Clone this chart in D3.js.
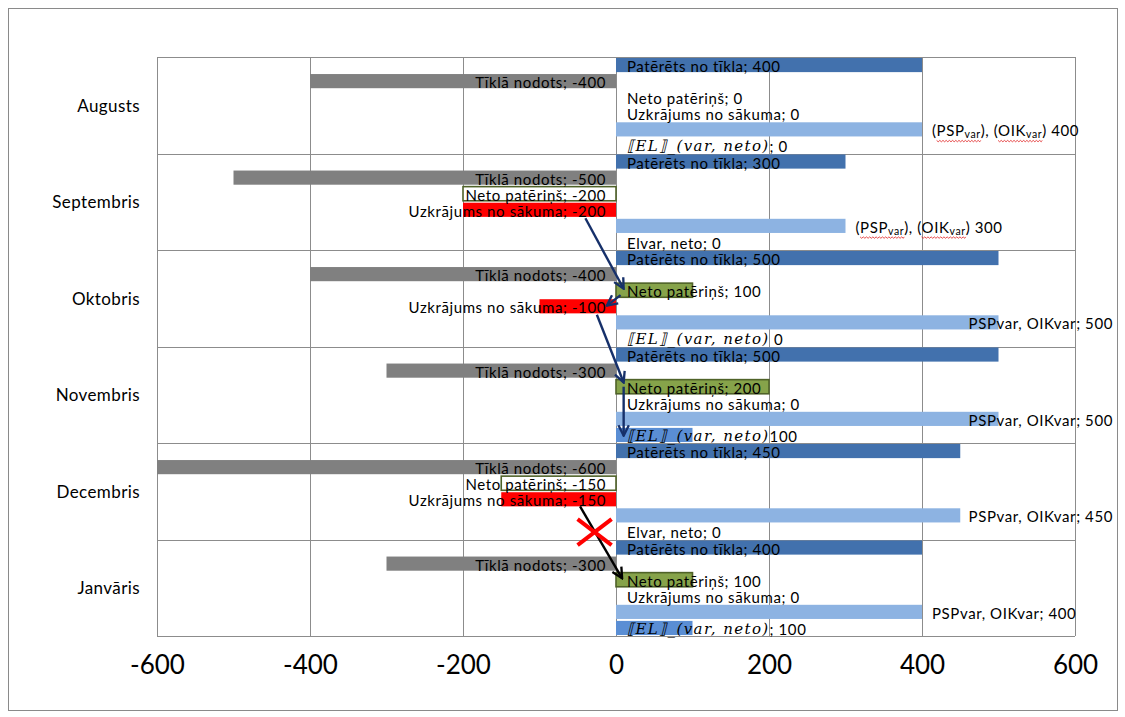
<!DOCTYPE html>
<html lang="lv">
<head>
<meta charset="utf-8">
<script src="https://cdn.jsdelivr.net/npm/d3@7"></script>
<style>
  html, body { margin: 0; padding: 0; background: #fff; }
  svg { display: block; }
  text { font-family: Lato, "Open Sans", sans-serif; }
</style>
</head>
<body>
<svg id="chart" width="1125" height="717"></svg>
<script>
// Mēneši (kategorijas) un sēriju vērtības, kWh
const categories = ["Augusts", "Septembris", "Oktobris", "Novembris", "Decembris", "Janvāris"];
const pateretsNoTikla = [400, 300, 500, 500, 450, 400];
const tiklaNodots = [-400, -500, -400, -300, -600, -300];
const netoPaterins = [0, -200, 100, 200, -150, 100];
const uzkrajumsNoSakuma = [0, -200, -100, 0, -150, 0];
const pspOikVar = [400, 300, 500, 500, 450, 400];
const elVarNeto = [0, 0, 0, 100, 0, 100];
const xTicks = [-600, -400, -200, 0, 200, 400, 600];

// Datu etiķešu pieraksts pa mēnešiem
const pspLabelForm = ["sub", "sub", "plain", "plain", "plain", "plain"];
const elLabelSep = ["; ", null, " ", "", null, "; "]; // null -> "Elvar, neto; "

const W = 1125, H = 717;
const plot = { left: 157, right: 1075, top: 57, bottom: 636 };
const labelSize = 15;

const svg = d3.select("#chart");

// Diagrammas rāmis
svg.append("rect")
  .attr("x", 8.5).attr("y", 8.5).attr("width", 1109).attr("height", 702)
  .attr("fill", "#fff").attr("stroke", "#8a8a8a").attr("stroke-width", 1);

const x = d3.scaleLinear().domain([-600, 600]).range([plot.left, plot.right]);
const y0 = d3.scaleBand().domain(categories).range([plot.top, plot.bottom]).padding(0);

const seriesKeys = ["paterets", "nodots", "neto", "uzkr", "psp", "el"];
const y1 = d3.scaleBand().domain(seriesKeys).range([0, y0.bandwidth()])
  .paddingInner(0.12).paddingOuter(0.06);

const gridColor = "#8c8c8c";

// Vertikālās režģa līnijas un x ass
const xAxis = d3.axisBottom(x).tickValues(xTicks)
  .tickSize(-(plot.bottom - plot.top)).tickPadding(20).tickFormat(d3.format("d"));
const gx = svg.append("g")
  .attr("transform", `translate(0,${plot.bottom})`)
  .call(xAxis);
gx.select(".domain").remove();
gx.selectAll(".tick line").attr("stroke", gridColor).attr("stroke-width", 1);
gx.selectAll(".tick text")
  .attr("font-family", "Lato, sans-serif")
  .attr("font-size", 26).attr("fill", "#000")
  .text(d => d < 0 ? "-" + Math.abs(d) : d);

// Horizontālās līnijas starp mēnešiem
const bounds = categories.map(c => y0(c)).concat([plot.bottom]);
svg.append("g").selectAll("line").data(bounds).join("line")
  .attr("x1", plot.left).attr("x2", plot.right)
  .attr("y1", d => Math.round(d) + 0.5).attr("y2", d => Math.round(d) + 0.5)
  .attr("stroke", gridColor).attr("stroke-width", 1);

// Mēnešu nosaukumi
svg.append("g").selectAll("text").data(categories).join("text")
  .attr("x", 140).attr("y", d => y0(d) + y0.bandwidth() / 2)
  .attr("text-anchor", "end").attr("dominant-baseline", "central")
  .attr("font-size", 17).attr("letter-spacing", 0.4).attr("fill", "#000")
  .text(d => d);

const series = [
  { key: "paterets", values: pateretsNoTikla, fill: "#4271ad", name: "Patērēts no tīkla" },
  { key: "nodots", values: tiklaNodots, fill: "#808080", name: "Tīklā nodots" },
  { key: "neto", values: netoPaterins, fill: "#86a34a", neg: "#ffffff", stroke: "#4f6228", name: "Neto patēriņš" },
  { key: "uzkr", values: uzkrajumsNoSakuma, fill: "#ff0000", name: "Uzkrājums no sākuma" },
  { key: "psp", values: pspOikVar, fill: "#8db3e2", name: "PSPvar, OIKvar" },
  { key: "el", values: elVarNeto, fill: "#5a8ed4", name: "Elvar, neto" }
];

const slotY = (ci, key) => y0(categories[ci]) + y1(key);
const bh = y1.bandwidth();
const x0 = x(0);

// Stabiņi
series.forEach(s => {
  const g = svg.append("g");
  g.selectAll("rect").data(s.values.map((v, i) => ({ v, i }))).join("rect")
    .filter(d => d.v !== 0)
    .attr("x", d => Math.min(x(d.v), x0))
    .attr("y", d => slotY(d.i, s.key))
    .attr("width", d => Math.abs(x(d.v) - x0))
    .attr("height", bh)
    .attr("fill", d => (d.v < 0 && s.neg) ? s.neg : s.fill)
    .attr("stroke", s.stroke || "none")
    .attr("stroke-width", s.stroke ? 1.6 : 0);
});

// Datu etiķetes
const labels = svg.append("g").attr("font-size", labelSize)
  .attr("letter-spacing", 0.6).attr("fill", "#000");
const fmt = v => (v < 0 ? "-" + Math.abs(v) : String(v));

series.forEach(s => {
  s.values.forEach((v, i) => {
    const cy = slotY(i, s.key) + bh / 2;
    if (s.key === "psp") {
      const t = labels.append("text").attr("y", cy + 1).attr("dominant-baseline", "central");
      if (pspLabelForm[i] === "sub") {
        t.append("tspan").text("(PSP");
        t.append("tspan").attr("font-size", 10.5).attr("dy", 4).text("var");
        t.append("tspan").attr("dy", -4).text("), (OIK");
        t.append("tspan").attr("font-size", 10.5).attr("dy", 4).text("var");
        t.append("tspan").attr("dy", -4).text(") " + fmt(v));
      } else {
        t.text(s.name + "; " + fmt(v));
      }
      const w = t.node().getComputedTextLength();
      const tx = Math.min(x(v) + 10, 1113 - w);
      t.attr("x", tx);
      if (pspLabelForm[i] === "sub") {
        // pareizrakstības viļņotā pasvītra zem PSPvar un OIKvar
        const node = t.node();
        [[1, 6], [11, 16]].forEach(([a, b]) => {
          const ea = node.getExtentOfChar(a), eb = node.getExtentOfChar(b);
          const xa = ea.x, xb = eb.x + eb.width;
          const yy = cy + 11;
          let p = `M${xa},${yy}`;
          for (let xx = xa, k = 0; xx < xb; xx += 1.6, k++) {
            p += ` L${Math.min(xx + 1.6, xb)},${yy + (k % 2 ? 0 : 1.4)}`;
          }
          labels.append("path").attr("d", p).attr("fill", "none")
            .attr("stroke", "#e02020").attr("stroke-width", 0.8);
        });
      }
      return;
    }
    if (s.key === "el") {
      const t = labels.append("text").attr("x", x0 + 11).attr("y", cy + 1)
        .attr("dominant-baseline", "central");
      const sep = elLabelSep[i];
      if (sep === null) {
        t.text(s.name + "; " + fmt(v));
      } else {
        t.append("tspan").attr("font-family", "'DejaVu Serif', serif")
          .attr("font-style", "italic").attr("font-size", 15)
          .attr("letter-spacing", 1.4)
          .text("⟦EL⟧_(var, neto)");
        t.append("tspan").attr("letter-spacing", 0.6).text(sep + fmt(v));
      }
      return;
    }
    const t = labels.append("text").attr("y", cy + 1).attr("dominant-baseline", "central")
      .text(s.name + "; " + fmt(v));
    if (v < 0) t.attr("x", x0 - 10).attr("text-anchor", "end");
    else t.attr("x", x0 + 11).attr("text-anchor", "start");
  });
});

// Bultas starp mēnešiem (pārnestais uzkrājums)
const defs = svg.append("defs");
[["navy", "#16306a"], ["blk", "#000000"]].forEach(([id, c]) => {
  defs.append("marker").attr("id", "arr-" + id)
    .attr("viewBox", "0 0 10 10").attr("refX", 9).attr("refY", 5)
    .attr("markerUnits", "userSpaceOnUse").attr("markerWidth", 13).attr("markerHeight", 13)
    .attr("orient", "auto")
    .append("path").attr("d", "M1,1 L9,5 L1,9").attr("fill", "none")
    .attr("stroke", c).attr("stroke-width", 1.8);
});

const pt = (ci, key, v, frac) => [x(v), slotY(ci, key) + frac * bh];
const arrows = [
  { from: [1, "uzkr", -40, 1.1], to: [2, "neto", 10, 0.4], c: "navy" },
  { from: [2, "neto", 6, 0.85], to: [2, "uzkr", -12, 0.45], c: "navy" },
  { from: [2, "uzkr", -25, 1.1], to: [3, "neto", 10, 0.2], c: "navy" },
  { from: [3, "neto", 10, 0.5], to: [3, "el", 10, 0.55], c: "navy" },
  { from: [4, "uzkr", -47, 1.0], to: [5, "neto", 8, 0.4], c: "blk" }
];
arrows.forEach(a => {
  const p0 = pt(...a.from), p1 = pt(...a.to);
  svg.append("line")
    .attr("x1", p0[0]).attr("y1", p0[1]).attr("x2", p1[0]).attr("y2", p1[1])
    .attr("stroke", a.c === "navy" ? "#16306a" : "#000")
    .attr("stroke-width", 2.4)
    .attr("marker-end", `url(#arr-${a.c})`);
});

// Sarkanais krustiņš: pārnesums uz janvāri nenotiek
const xc = pt(4, "el", -28, 0.55);
svg.append("g").attr("stroke", "#ff0000").attr("stroke-width", 4).attr("stroke-linecap", "butt")
  .selectAll("line").data([[-17, -13, 17, 13], [-17, 13, 17, -13]]).join("line")
  .attr("x1", d => xc[0] + d[0]).attr("y1", d => xc[1] + d[1])
  .attr("x2", d => xc[0] + d[2]).attr("y2", d => xc[1] + d[3]);
</script>
</body>
</html>
